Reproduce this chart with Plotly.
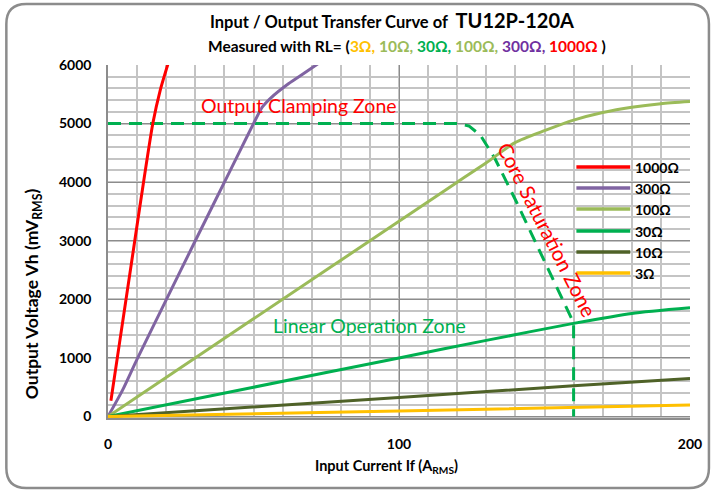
import plotly.graph_objects as go

# ---------------- data ----------------
x_1000 = [1, 4, 8, 11.3, 15.4, 18, 21]
y_1000 = [270, 1270, 2600, 3700, 5000, 5580, 6080]

x_300 = [0, 5, 10, 20, 30, 37, 45, 50, 53, 56, 62, 68, 73]
y_300 = [0, 450, 980, 1990, 3000, 3700, 4500, 5000, 5280, 5440, 5680, 5880, 6050]

x_100 = [0, 50, 100, 120, 130, 140, 150, 160, 170, 180, 190, 200]
y_100 = [0, 1667, 3333, 4000, 4330, 4680, 4880, 5060, 5190, 5280, 5340, 5375]

x_30 = [0, 50, 100, 130, 160, 180, 200]
y_30 = [0, 500, 1000, 1300, 1590, 1760, 1855]

x_10 = [0, 100, 160, 200]
y_10 = [0, 325, 525, 650]

x_3 = [0, 100, 200]
y_3 = [0, 95, 195]

x_bound = [0, 120, 124, 128, 133, 140, 148, 156, 160, 160]
y_bound = [5000, 5000, 4960, 4800, 4400, 3700, 2860, 2000, 1600, 0]

series_names = ["1000Ω", "300Ω", "100Ω", "30Ω", "10Ω", "3Ω"]
series_colors = ["#FF0000", "#8064A2", "#9BBB59", "#00B050", "#4F6228", "#FFC000"]
x_ticks = [0, 100, 200]
y_ticks = [0, 1000, 2000, 3000, 4000, 5000, 6000]

FONT = "Lato"
W, H = 714, 490
L, R, T, B = 108, 22, 65, 72
PW, PH = W - L - R, H - T - B


def px(x):
    return (x - L) / PW


def py(y):
    return (H - B - y) / PH


fig = go.Figure()

# boundary dashed line
fig.add_trace(go.Scatter(x=x_bound, y=y_bound, mode="lines", showlegend=False,
                         line=dict(color="#00B050", width=3, dash="13px,8px"),
                         hoverinfo="skip"))

xs = [x_1000, x_300, x_100, x_30, x_10, x_3]
ys = [y_1000, y_300, y_100, y_30, y_10, y_3]
for name, c, xv, yv in zip(series_names, series_colors, xs, ys):
    fig.add_trace(go.Scatter(x=xv, y=yv, mode="lines", name=name, showlegend=False,
                             line=dict(color=c, width=3, shape="spline", smoothing=0.6)))

# legend drawn as shapes + text
leg_y = [167, 188, 209, 231, 252, 273]
for name, c, ly in zip(series_names, series_colors, leg_y):
    fig.add_shape(type="line", xref="paper", yref="paper",
                  x0=px(578), x1=px(632), y0=py(ly), y1=py(ly),
                  line=dict(color=c, width=3.5))
    fig.add_annotation(xref="paper", yref="paper", x=px(635), y=py(ly), showarrow=False,
                       xanchor="left", yanchor="middle", text=f"<b>{name}</b>",
                       font=dict(family=FONT, size=14, color="#000000"))

# rounded outer frame
x0, y0, x1, y1, r = 6, 4, 711, 488, 20
path = (f"M {px(x0+r)},{py(y0)} L {px(x1-r)},{py(y0)} "
        f"Q {px(x1)},{py(y0)} {px(x1)},{py(y0+r)} "
        f"L {px(x1)},{py(y1-r)} Q {px(x1)},{py(y1)} {px(x1-r)},{py(y1)} "
        f"L {px(x0+r)},{py(y1)} Q {px(x0)},{py(y1)} {px(x0)},{py(y1-r)} "
        f"L {px(x0)},{py(y0+r)} Q {px(x0)},{py(y0)} {px(x0+r)},{py(y0)} Z")
fig.add_shape(type="path", path=path, xref="paper", yref="paper",
              line=dict(color="#8C8C8C", width=2.5), layer="above")

annos = [
    dict(x=px(393), y=py(20), text="<b>Input / Output Transfer Curve of  <span style='font-size:20px'>TU12P-120A</span></b>",
         font=dict(size=16.5, color="#000000")),
    dict(x=px(408), y=py(46),
         text="<b>Measured with RL= (<span style='color:#FFC000'>3Ω,</span> "
              "<span style='color:#9BBB59'>10Ω,</span> <span style='color:#00B050'>30Ω,</span> "
              "<span style='color:#9BBB59'>100Ω,</span> <span style='color:#7030A0'>300Ω,</span> "
              "<span style='color:#FF0000'>1000Ω</span> )</b>",
         font=dict(size=15.5, color="#000000")),
    dict(x=px(300), y=py(105), text="Output Clamping Zone", font=dict(size=19.5, color="#FF0000")),
    dict(x=px(370), y=py(325), text="Linear Operation Zone", font=dict(size=19.5, color="#00B050")),
    dict(x=px(549), y=py(230), text="Core Saturation Zone", textangle=63,
         font=dict(size=20.5, color="#FF0000")),
    dict(x=px(33), y=py(294), text="<b>Output Voltage Vh (mV<sub>RMS</sub>)</b>", textangle=-90,
         font=dict(size=17.5, color="#000000")),
    dict(x=px(387), y=py(467), text="<b>Input Current If (A<sub>RMS</sub>)</b>",
         font=dict(size=14.5, color="#000000")),
]
for a in annos:
    fig.add_annotation(xref="paper", yref="paper", showarrow=False,
                       xanchor="center", yanchor="middle", font_family=FONT, **a)

fig.update_layout(
    width=W, height=H,
    margin=dict(l=L, r=R, t=T, b=B),
    paper_bgcolor="white", plot_bgcolor="white",
    font=dict(family=FONT, size=14, color="#000000"),
    showlegend=False,
    xaxis=dict(range=[0, 200], tickvals=x_ticks, ticktext=[f"<b>{v}</b>" for v in x_ticks],
               showgrid=True, gridcolor="#8C8C8C", gridwidth=1.2,
               minor=dict(dtick=10, showgrid=True, gridcolor="#C4C4C4", gridwidth=1.5, tick0=0),
               showline=True, linecolor="#8C8C8C", linewidth=1.5, mirror=False,
               ticks="outside", ticklen=12, tickcolor="rgba(0,0,0,0)", zeroline=False,
               tickfont=dict(size=14)),
    yaxis=dict(range=[-25, 6000], tickvals=y_ticks, ticktext=[f"<b>{v}</b>" for v in y_ticks],
               showgrid=True, gridcolor="#8C8C8C", gridwidth=1.2,
               minor=dict(dtick=200, showgrid=True, gridcolor="#C4C4C4", gridwidth=1.5, tick0=0),
               showline=True, linecolor="#8C8C8C", linewidth=1.5,
               ticks="outside", ticklen=12, tickcolor="rgba(0,0,0,0)", zeroline=False,
               tickfont=dict(size=14)),
)

fig.write_html("out.html", config={"displayModeBar": False},
               post_script="document.body.style.margin='0px';")
